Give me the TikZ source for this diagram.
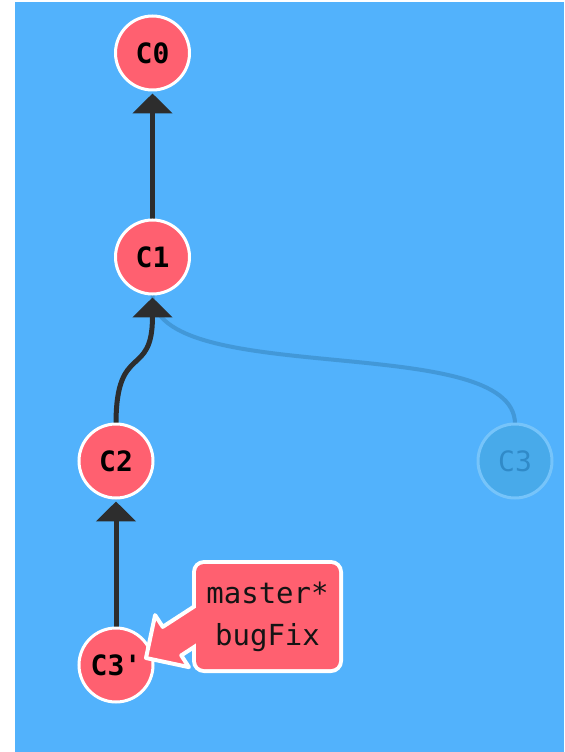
\documentclass[tikz,border=0pt]{standalone}
\usepackage{fontspec}
\newfontfamily\gitmono{DejaVu Sans Mono}
\usetikzlibrary{arrows.meta,calc,backgrounds}

\definecolor{canvasblue}{RGB}{82,178,252}
\definecolor{commitred}{RGB}{255,96,112}
\definecolor{edgedark}{RGB}{45,45,45}
\definecolor{ghostline}{RGB}{66,152,216}
\definecolor{ghostfill}{RGB}{72,170,234}
\definecolor{ghostring}{RGB}{118,196,250}
\definecolor{ghosttext}{RGB}{48,138,200}

\begin{document}
\begin{tikzpicture}[x=0.75pt,y=-0.75pt,
  commit/.style={circle, draw=white, line width=2.25pt, fill=commitred,
    minimum size=55.5pt, inner sep=0pt, outer sep=0pt, text=black,
    font=\gitmono\bfseries\fontsize{21}{25}\selectfont},
  ghost/.style={commit, draw=ghostring, fill=ghostfill, text=ghosttext,
    font=\gitmono\fontsize{21}{25}\selectfont},
  parent/.style={draw=edgedark, line width=3.75pt,
    -{Triangle[width=29.25pt,length=15pt]}, shorten >=2.6pt},
  ghostlink/.style={draw=ghostline, line width=3pt},
  pointer/.style={fill=commitred, draw=white, line width=3pt, line join=round},
  branchtag/.style={rectangle, fill=commitred, rounded corners=6pt,
    minimum width=107.25pt, minimum height=78.75pt, inner sep=0pt,
    align=center, text=black!92,
    font=\gitmono\fontsize{21.75}{31.5}\selectfont}]
\useasboundingbox (0,0) rectangle (564,752);

% commits
\node[commit] (c0)  at (152.5,53)  {C0};
\node[commit] (c1)  at (152.5,257) {C1};
\node[commit] (c2)  at (116,461)   {C2};
\node[ghost]  (c3)  at (515,461)   {C3};
\node[commit] (c3p) at (116,665)   {C3'};

% canvas and parent links, kept under the commits
\begin{scope}[on background layer]
  \fill[canvasblue] (15,2) rectangle (564,752);
  \draw[ghostlink] (c3.north) .. controls +(0,-94) and +(0,96) .. (c1.south);
  \draw[parent] (c1.north) -- (c0.south);
  \draw[parent] (c2.north) .. controls +(0,-83) and +(0,86) .. (c1.south);
  \draw[parent] (c3p.north) -- (c2.south);
\end{scope}

% branch tag: white frame, pointer, then the tag body with its names
\fill[white, rounded corners=9pt] (192,560) rectangle (343,673);
\coordinate (tip) at ($(c3p)+(30,-7)$);
\begin{scope}[shift={(tip)}, rotate=33]
  \filldraw[pointer] (0,0) -- (31,-31) -- (31,-17) -- (90,-17)
    -- (90,17) -- (31,17) -- (31,31) -- cycle;
\end{scope}
\node[branchtag] (tag) at (267.5,616.5) {master*\\bugFix};
\end{tikzpicture}
\end{document}
